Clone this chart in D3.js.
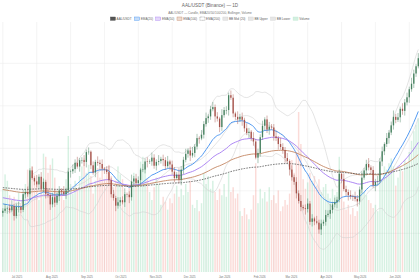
<!DOCTYPE html>
<html><head><meta charset="utf-8">
<script src="https://cdn.jsdelivr.net/npm/d3@7"></script>
<style>html,body{margin:0;padding:0;background:#fff}svg{display:block}</style>
</head><body>
<svg id="c" width="420" height="280"></svg>
<script>
const title = "AAL/USDT (Binance) — 1D";
const subtitle = "AAL/USDT — Candle, EMA20/50/100/200, Bollinger, Volume";
const firstDay = "2025-06-18";
const dayStep = 2;          // days between plotted candles
const firstOpen = 1248;     // cents
// closes in cents
const closes = [
1253,1258,1259,1254,1264, 1241,1262,1262,1255,1292, 1297,1292,1348,1330,1322, 1315,1333,1305,1321,1293,
1290,1268,1285,1272,1288, 1301,1298,1292,1301,1345, 1346,1351,1366,1357,1372, 1372,1368,1391,1392,1360,
1343,1368,1366,1363,1352, 1350,1344,1325,1292,1283, 1265,1273,1278,1273,1292, 1291,1285,1322,1329,1318,
1325,1350,1350,1369,1368, 1369,1378,1359,1368,1370, 1375,1372,1358,1369,1362, 1345,1330,1338,1326,1350,
1373,1387,1395,1383,1389, 1404,1424,1423,1432,1457, 1471,1475,1492,1497,1475, 1470,1450,1478,1490,1490,
1525,1519,1482,1474,1468, 1474,1467,1447,1436,1439, 1424,1416,1378,1389,1426, 1453,1468,1444,1451,1449,
1428,1424,1410,1403,1396, 1377,1370,1350,1332,1321, 1294,1276,1262,1259,1257, 1270,1227,1235,1228,1225,
1209,1223,1227,1243,1246, 1255,1268,1273,1279,1340, 1328,1304,1297,1290,1287, 1286,1281,1275,1303,1331,
1348,1363,1355,1349,1313, 1321,1322,1369,1393,1410, 1424,1437,1454,1474,1467, 1473,1493,1488,1508,1520,
1539,1552,1576,1593,1612];
// upper / lower wick length beyond the body, cents
const wickUp = [
6,11,4,9,14,5,8,12,3,10, 7,13,5,9,4,15,6,11,8,5, 12,4,9,18,7,10,5,13,6,9, 4,11,8,14,5,7,12,6,10,3,
9,5,13,7,11,4,8,15,6,10, 5,12,7,9,14,4,8,16,6,11, 9,4,13,7,10,5,12,8,6,14, 5,10,7,13,4,9,11,6,15,8,
7,12,5,9,14,6,10,4,11,7, 13,5,8,12,6,10,4,14,7,9, 6,11,8,4,13,7,10,5,12,9, 4,14,6,10,7,12,5,9,11,6,
8,13,5,15,9,7,12,4,10,6, 11,7,14,5,9,12,6,10,4,13, 7,9,5,12,8,14,6,11,7,10, 5,13,8,6,11,4,12,9,7,15,
6,10,14,5,9,7,13,8,11,4, 12,6,9,15,7,10,5,13,8,11, 6,14,9,5,12];
const wickDown = [
9,5,12,7,4,11,6,13,8,5, 10,6,14,4,9,7,12,5,8,11, 6,13,7,10,5,12,8,4,11,7, 14,6,9,5,12,8,10,13,6,9,
5,11,7,14,6,10,4,12,8,6, 13,7,9,5,11,6,14,8,10,4, 7,12,6,9,13,5,10,7,11,8, 6,14,9,5,12,7,10,4,8,13,
11,6,9,13,5,10,7,12,4,9, 6,11,8,5,14,7,12,9,6,10, 13,5,9,7,11,6,14,8,5,12, 7,10,4,13,9,6,11,8,12,5,
10,7,13,6,9,11,5,14,8,7, 12,6,10,5,13,8,7,11,9,4, 10,13,6,9,5,12,8,7,14,6, 11,5,9,13,7,10,6,12,8,9,
5,12,7,10,6,14,8,5,11,9, 7,13,6,10,8,5,12,9,11,7, 13,6,10,8,5];
const volumes = [
52,61,57,48,39, 47,44,50,43,49, 55,64,92,66,61, 57,45,54,74,72, 62,67,71,59,51, 48,52,45,58,85,
55,49,57,51,60, 66,71,62,67,60, 49,57,65,59,63, 58,62,67,60,53, 57,66,61,58,50, 47,53,49,62,55,
54,69,72,66,58, 50,45,53,59,55, 42,47,44,39,46, 43,49,54,47,52, 48,55,50,57,42, 40,45,38,43,62,
55,60,52,57,50, 45,52,48,55,47, 62,50,53,46,49, 38,35,40,36,33, 39,48,68,43,52, 46,50,44,53,45,
48,43,51,38,41, 45,42,49,70,62, 75,100,80,58,52, 56,62,57,60,54, 58,50,53,55,49, 46,52,48,50,72,
55,44,39,42,36, 40,35,38,42,53, 50,48,45,43,40, 42,38,55,58,66, 64,68,71,66,54, 59,66,63,70,68,
75,82,88,92,96];
// EMA values carried in from before the first visible candle (cents)
const emaPeriods = [20, 50, 100, 200];
const emaStart = [1271, 1285, 1304, 1308];
const emaColors = ["#3f8fef", "#a57af2", "#c48763", "#555555"];
const bbPeriod = 20;
const priceTicks = [12, 13, 14, 15, 16, 17];
const gridEveryDays = 30;
const legendLabels = ["AAL/USDT","EMA(20)","EMA(50)","EMA(100)","EMA(200)","BB Mid (20)","BB Upper","BB Lower","Volume"];

const W = 420, H = 280, plotTop = 22, plotBottom = 272;
const svg = d3.select("#c");
const parse = d3.utcParse("%Y-%m-%d");
const day0 = parse(firstDay);
const data = closes.map((c, i) => {
  const o = i ? closes[i-1] : firstOpen;
  return {
    date: d3.utcHour.offset(d3.utcDay.offset(day0, i*dayStep), 12),
    o: o/100, c: c/100,
    h: (Math.max(o, c) + wickUp[i])/100,
    l: (Math.min(o, c) - wickDown[i])/100,
    v: volumes[i]
  };
});

const x = d3.scaleUtc().domain([parse("2025-06-16"), parse("2026-06-23")]).range([0, W]);
const y = d3.scaleLinear().domain([12, 16]).range([233.3, 63.3]);
const yv = d3.scaleLinear().domain([0, 100]).range([plotBottom, plotBottom - 160]);

svg.append("clipPath").attr("id","clip").append("rect").attr("x",0).attr("y",plotTop).attr("width",W).attr("height",plotBottom-plotTop);

// grid
const grid = svg.append("g").attr("clip-path","url(#clip)");
grid.selectAll("line.h").data(priceTicks).join("line")
  .attr("x1",0).attr("x2",W).attr("y1",d=>y(d)).attr("y2",d=>y(d))
  .attr("stroke","#ececec").attr("stroke-width",0.6);
const gridDays = d3.utcDay.every(gridEveryDays).range ? null : null;
const vDates = d3.range(0, 13).map(k => d3.utcHour.offset(d3.utcDay.offset(day0, k*gridEveryDays), 12));
grid.selectAll("line.v").data(vDates).join("line")
  .attr("x1",d=>x(d)).attr("x2",d=>x(d)).attr("y1",plotTop).attr("y2",plotBottom)
  .attr("stroke","#ececec").attr("stroke-width",0.6);

const plot = svg.append("g").attr("clip-path","url(#clip)");
const vw = 1.45, bw = 1.3;
// volume
plot.selectAll("rect.vol").data(data).join("rect")
  .attr("x", d=>x(d.date)-vw/2).attr("width", vw)
  .attr("y", d=>yv(d.v)).attr("height", d=>plotBottom-yv(d.v))
  .attr("fill", d=> d.c>=d.o ? "rgba(90,200,140,0.25)" : "rgba(240,110,100,0.25)");

// Bollinger
const bb = data.map((d,i)=>{
  const win = data.slice(Math.max(0,i-bbPeriod+1), i+1).map(e=>e.c);
  const m = d3.mean(win), s = Math.sqrt(d3.mean(win.map(v=>(v-m)*(v-m))));
  return {date:d.date, mid:m, up:m+2*s, lo:m-2*s, n:win.length};
}).filter(d=>d.n>=3);
const ln = key => d3.line().x(d=>x(d.date)).y(d=>y(d[key])).curve(d3.curveMonotoneX);
["mid","up","lo"].forEach(k=>{
  plot.append("path").datum(bb).attr("d", ln(k)).attr("fill","none")
    .attr("stroke","#d2d2d2").attr("stroke-width",0.6);
});

// EMAs
emaPeriods.forEach((p,j)=>{
  const a = 2/(p+1);
  let e = emaStart[j]/100;
  const pts = data.map(d=>{ e = a*d.c + (1-a)*e; return {date:d.date, v:e}; });
  const path = plot.append("path").datum(pts)
    .attr("d", d3.line().x(d=>x(d.date)).y(d=>y(d.v)).curve(d3.curveMonotoneX))
    .attr("fill","none").attr("stroke",emaColors[j]).attr("stroke-width", p===200?0.8:0.9);
  if (p===200) path.attr("stroke-dasharray","1.6,1.1");
});

// candles
const upC = "#46805f", dnC = "#a6524a";
const cg = plot.append("g");
cg.selectAll("line").data(data).join("line")
  .attr("x1",d=>x(d.date)).attr("x2",d=>x(d.date)).attr("y1",d=>y(d.h)).attr("y2",d=>y(d.l))
  .attr("stroke",d=>d.c>=d.o?upC:dnC).attr("stroke-width",0.45);
cg.selectAll("rect").data(data).join("rect")
  .attr("x",d=>x(d.date)-bw/2).attr("width",bw)
  .attr("y",d=>y(Math.max(d.o,d.c))).attr("height",d=>Math.max(0.5, Math.abs(y(d.o)-y(d.c))))
  .attr("fill",d=>d.c>=d.o?upC:dnC);

// x axis labels
const months = d3.utcMonth.range(parse("2025-07-01"), parse("2026-06-02"));
svg.append("g").selectAll("text").data(months).join("text")
  .attr("x", d=>x(d)).attr("y", 278).attr("text-anchor","middle")
  .attr("font-family","Liberation Sans, Arial, sans-serif").attr("font-size",2.8).attr("fill","#777")
  .text(d3.utcFormat("%b %Y"));

// title
svg.append("text").attr("x",210).attr("y",7).attr("text-anchor","middle")
  .attr("font-family","Liberation Sans, Arial, sans-serif").attr("font-size",4.6).attr("fill","#666").text(title);
svg.append("text").attr("x",210).attr("y",13.5).attr("text-anchor","middle")
  .attr("font-family","Liberation Sans, Arial, sans-serif").attr("font-size",3.1).attr("fill","#777").text(subtitle);

// legend
const swatches = [
  {fill:"#555",stroke:"#444"},
  {fill:"rgba(63,143,239,0.3)",stroke:"#3f8fef"},
  {fill:"rgba(165,122,242,0.3)",stroke:"#a57af2"},
  {fill:"rgba(196,135,99,0.3)",stroke:"#c48763"},
  {fill:"#fff",stroke:"#555",dash:"0.8,0.5"},
  {fill:"#e6e6e6",stroke:"#d0d0d0"},
  {fill:"#e6e6e6",stroke:"#d0d0d0"},
  {fill:"#e6e6e6",stroke:"#d0d0d0"},
  {fill:"#d3f0e0",stroke:"#bfe6d1"}
];
const lg = svg.append("g");
let lx = 0;
legendLabels.forEach((t,i)=>{
  const g = lg.append("g");
  g.append("rect").attr("x",0).attr("y",-1.7).attr("width",5).attr("height",3.3)
    .attr("fill",swatches[i].fill).attr("stroke",swatches[i].stroke).attr("stroke-width",0.4)
    .attr("stroke-dasharray",swatches[i].dash||null);
  const tx = g.append("text").attr("x",6.2).attr("y",1.1)
    .attr("font-family","Liberation Sans, Arial, sans-serif").attr("font-size",3.1).attr("fill","#666").text(t);
  const w = 6.2 + tx.node().getComputedTextLength();
  g.attr("transform",`translate(${lx},18.7)`);
  lx += w + 2.8;
});
lg.attr("transform",`translate(${210 - (lx-2.8)/2},0)`);
</script>
</body></html>
